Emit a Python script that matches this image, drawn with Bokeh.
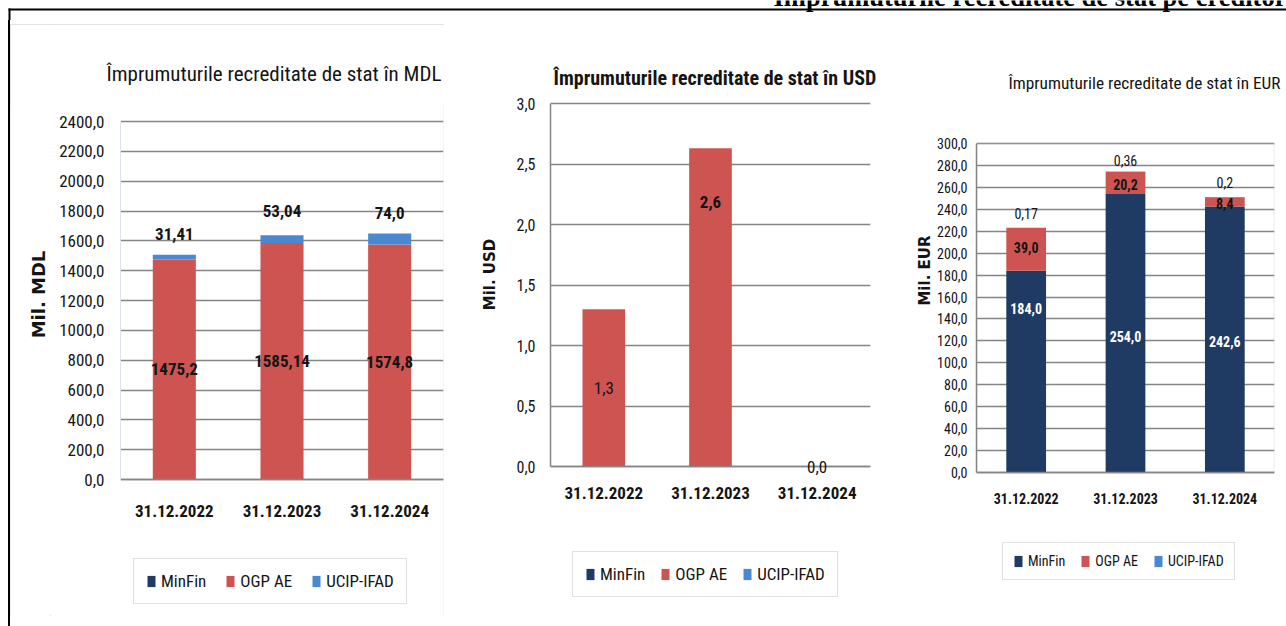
import math
from bokeh.plotting import figure
from bokeh.layouts import row, column
from bokeh.models import (ColumnDataSource, FactorRange, Range1d, FixedTicker, Legend,
                          LegendItem, LabelSet, Label, BoxAnnotation, Spacer, CustomJSTickFormatter)
from bokeh.embed import file_html
from bokeh.resources import INLINE
from bokeh.core.properties import value

# ---------------- data ----------------
dates = ["31.12.2022", "31.12.2023", "31.12.2024"]
series = ["MinFin", "OGP AE", "UCIP-IFAD"]

mdl_minfin = [0.0, 0.0, 0.0]
mdl_ogp = [1475.2, 1585.14, 1574.8]
mdl_ucip = [31.41, 53.04, 74.0]
mdl_ogp_text = ["1475,2", "1585,14", "1574,8"]
mdl_ucip_text = ["31,41", "53,04", "74,0"]
mdl_ticks = [0, 200, 400, 600, 800, 1000, 1200, 1400, 1600, 1800, 2000, 2200, 2400]

usd_minfin = [0.0, 0.0, 0.0]
usd_ogp = [1.3, 2.63, 0.0]
usd_ucip = [0.0, 0.0, 0.0]
usd_ogp_text = ["1,3", "2,6", "0,0"]
usd_ticks = [0.0, 0.5, 1.0, 1.5, 2.0, 2.5, 3.0]

eur_minfin = [184.0, 254.0, 242.6]
eur_ogp = [39.0, 20.2, 8.4]
eur_ucip = [0.17, 0.36, 0.2]
eur_minfin_text = ["184,0", "254,0", "242,6"]
eur_ogp_text = ["39,0", "20,2", "8,4"]
eur_ucip_text = ["0,17", "0,36", "0,2"]
eur_ticks = [0, 20, 40, 60, 80, 100, 120, 140, 160, 180, 200, 220, 240, 260, 280, 300]

header_text = "Împrumuturile recreditate de stat pe creditori"
title_mdl = "Împrumuturile recreditate de stat în MDL"
title_usd = "Împrumuturile recreditate de stat în USD"
title_eur = "Împrumuturile recreditate de stat în EUR"
ylabel_mdl = "Mil. MDL"
ylabel_usd = "Mil. USD"
ylabel_eur = "Mil. EUR"

# ---------------- style ----------------
NARROW = "Roboto Condensed, DejaVu Sans Condensed, Noto Sans Condensed, Liberation Sans Narrow, Arial Narrow, Roboto"
WIDE = "DejaVu Sans"
SERIF = "Liberation Serif"
COLORS = ["#1f3b63", "#cd5451", "#4a88d2"]
GRID = "#858585"
TXT = "#141414"
ROW_TOP = 20
ROW_H = 606
TOP_BORDER = 80

fmt = CustomJSTickFormatter(code="return tick.toFixed(1).replace('.', ',');")


def plain_fig(width, height, top_border=0, flip=True):
    yr = Range1d(height, top_border) if flip else Range1d(0, height)
    p = figure(width=width, height=height, x_range=Range1d(0, width), y_range=yr,
               output_backend="svg", toolbar_location=None, x_axis_type=None, y_axis_type=None,
               min_border=0, min_border_top=top_border, outline_line_color=None)
    p.grid.visible = False
    return p


def chart_fig(x0, x1, y0, y1, frame_left, frame_right, px_zero, px_max, y_max, ticks,
              ytick_size, ytick_standoff, xtick_size, xtick_standoff):
    k = (px_zero - px_max) / y_max
    frame_top = y0 + TOP_BORDER
    y_start = -(y1 - px_zero) / k
    y_end = y_max + (px_max - frame_top) / k
    p = figure(x_range=FactorRange(*dates), y_range=Range1d(y_start, y_end),
               width=x1 - x0, height=y1 - y0, output_backend="svg", toolbar_location=None,
               min_border_left=frame_left - x0, min_border_right=x1 - frame_right,
               min_border_top=TOP_BORDER, min_border_bottom=0)
    p.background_fill_color = "white"
    p.border_fill_color = "white"
    p.outline_line_color = None
    p.xgrid.grid_line_color = None
    p.ygrid.grid_line_color = GRID
    p.ygrid.grid_line_width = 1.5
    p.ygrid.ticker = FixedTicker(ticks=ticks)
    ya = p.yaxis[0]
    ya.ticker = FixedTicker(ticks=ticks)
    ya.formatter = fmt
    ya.bounds = (0, y_max)
    ya.major_tick_line_color = None
    ya.minor_tick_line_color = None
    ya.major_tick_out = 0
    ya.major_tick_in = 0
    ya.major_label_standoff = ytick_standoff
    ya.major_label_text_font = NARROW
    ya.major_label_text_font_size = ytick_size
    ya.major_label_text_color = TXT
    xa = p.xaxis[0]
    xa.fixed_location = 0
    xa.major_tick_line_color = None
    xa.minor_tick_line_color = None
    xa.major_tick_out = 0
    xa.major_tick_in = 0
    xa.major_label_standoff = xtick_standoff
    xa.major_label_text_font = NARROW
    xa.major_label_text_font_style = "bold"
    xa.major_label_text_font_size = xtick_size
    xa.major_label_text_color = TXT
    xa.axis_line_color = GRID
    xa.axis_line_width = 1.5
    p._geo = (frame_left, y1)
    return p


def set_title(p, text, left, size, style, standoff):
    fl, _ = p._geo
    p.title.text = text
    p.title.align = "left"
    p.title.offset = left - fl
    p.title.standoff = standoff
    p.title.vertical_align = "bottom"
    p.title.text_font = NARROW
    p.title.text_font_size = size
    p.title.text_font_style = style
    p.title.text_color = TXT


def add_bars(p, minfin, ogp, ucip):
    src = ColumnDataSource({"x": dates, "MinFin": minfin, "OGP AE": ogp, "UCIP-IFAD": ucip})
    return p.vbar_stack(series, x="x", width=0.4, fill_color=COLORS, line_color=None, source=src)


def add_legend(p, rs, box_left, box_bottom, size, padding, spacing):
    fl, fb = p._geo
    items = [LegendItem(label=value(s), renderers=[r]) for s, r in zip(series, rs)]
    lg = Legend(items=items, orientation="horizontal", location=(box_left - fl, fb - box_bottom),
                label_text_font=NARROW, label_text_font_size=size, label_text_color=TXT,
                glyph_width=10, glyph_height=14, label_standoff=5, spacing=spacing,
                padding=padding, margin=0, border_line_color="#c4c4c4",
                border_line_width=1.5, background_fill_color="white")
    p.add_layout(lg)


def add_labels(p, ys, texts, offsets, size, style, color):
    src = ColumnDataSource({"x": dates, "y": ys, "t": texts, "dy": offsets,
                            "st": style, "c": color})
    p.add_layout(LabelSet(x="x", y="y", text="t", y_offset="dy", source=src,
                          text_align="center", text_baseline="middle",
                          text_font=value(NARROW), text_font_size=value(size),
                          text_font_style="st", text_color="c"))


def ylabel_fig(width, height, text, cx, cy, size):
    p = plain_fig(width, height, top_border=TOP_BORDER)
    p.add_layout(Label(x=cx, y=cy, text=text, angle=math.pi / 2, text_align="center",
                       text_baseline="middle", text_font=WIDE, text_font_style="bold",
                       text_font_size=size, text_color=TXT))
    return p


# ---------------- header + frame lines ----------------
hdr = plain_fig(1286, ROW_TOP, flip=False)
hdr.add_layout(BoxAnnotation(left=8, right=1286, bottom=ROW_TOP - 10, top=ROW_TOP - 8,
                             fill_color="black", fill_alpha=1, line_color=None))
hdr.add_layout(BoxAnnotation(left=8, right=10, bottom=0, top=ROW_TOP - 8, fill_color="black",
                             fill_alpha=1, line_color=None))
hdr.add_layout(Label(x=773, y=ROW_TOP + 4, text=header_text, text_font=SERIF,
                     text_font_style="bold", text_font_size="26.5px",
                     text_baseline="middle", text_color="black"))

edge_pad = Spacer(width=8, height=ROW_H)
edge_line = Spacer(width=2, height=ROW_H, styles={"background-color": "#000000"})

# ---------------- MDL ----------------
mdl_lab = ylabel_fig(40, 592, ylabel_mdl, 28, 270, "18px")
pm = chart_fig(50, 444, 24, 616, 120, 443, 479, 121, 2400, mdl_ticks, "17px", 16, "17px", 25)
pm.yaxis[0].axis_line_color = "#dde3ec"
set_title(pm, title_mdl, 106, "21px", "normal", 37)
rs = add_bars(pm, mdl_minfin, mdl_ogp, mdl_ucip)
mid = [m + o / 2 for m, o in zip(mdl_minfin, mdl_ogp)]
top = [m + o + u for m, o, u in zip(mdl_minfin, mdl_ogp, mdl_ucip)]
add_labels(pm, mid, mdl_ogp_text, [0, 0, 0], "17px", ["bold"] * 3, [TXT] * 3)
add_labels(pm, top, mdl_ucip_text, [21, 24, 21], "17px", ["bold"] * 3, [TXT] * 3)
add_legend(pm, rs, 133, 604, "17px", 12, 19)
mdl_group = row(mdl_lab, pm, margin=(4, 0, 10, 0),
                styles={"outline": "1px solid #d6dbe3", "outline-offset": "-1px"})

# ---------------- USD ----------------
usd_lab = ylabel_fig(56, ROW_H, ylabel_usd, 45, 254, "15px")
pu = chart_fig(500, 896, ROW_TOP, ROW_TOP + ROW_H, 550, 870, 466, 103, 3.0, usd_ticks,
               "16px", 15, "17px", 20)
pu.yaxis[0].axis_line_color = GRID
pu.yaxis[0].axis_line_width = 1.5
set_title(pu, title_usd, 553, "20px", "bold", 22)
rs = add_bars(pu, usd_minfin, usd_ogp, usd_ucip)
mid = [m + o / 2 for m, o in zip(usd_minfin, usd_ogp)]
add_labels(pu, mid, usd_ogp_text, [0, 105, 0], "17px", ["normal", "bold", "normal"], [TXT] * 3)
add_legend(pu, rs, 572, 597, "17px", 12, 15)

# ---------------- EUR ----------------
eur_lab = ylabel_fig(38, ROW_H, ylabel_eur, 28, 250, "15px")
pe = chart_fig(934, 1286, ROW_TOP, ROW_TOP + ROW_H, 976, 1274, 472, 143, 300, eur_ticks,
               "14px", 9, "14px", 20)
pe.yaxis[0].axis_line_color = GRID
pe.yaxis[0].axis_line_width = 1.5
set_title(pe, title_eur, 1008, "17.3px", "normal", 15)
pe.add_layout(BoxAnnotation(bottom=0, top=300, fill_alpha=0, line_color="#95b3d7",
                            line_width=1.5, level="underlay"))
rs = add_bars(pe, eur_minfin, eur_ogp, eur_ucip)
mid_m = [m / 2 for m in eur_minfin]
mid_o = [m + o / 2 for m, o in zip(eur_minfin, eur_ogp)]
top = [m + o + u for m, o, u in zip(eur_minfin, eur_ogp, eur_ucip)]
add_labels(pe, mid_m, eur_minfin_text, [63, -3, -2], "14px", ["bold"] * 3, ["white"] * 3)
add_labels(pe, mid_o, eur_ogp_text, [2, -2, -2], "14px", ["bold"] * 3, [TXT] * 3)
add_labels(pe, top, eur_ucip_text, [14, 11, 15], "14px", ["normal"] * 3, [TXT] * 3)
add_legend(pe, rs, 1002, 580, "14px", 10, 15)

for p in (pm, pu, pe):
    del p._geo

layout = column(hdr, row(edge_pad, edge_line, mdl_group, usd_lab, pu, eur_lab, pe))
open("out.html", "w").write(file_html(layout, INLINE))
